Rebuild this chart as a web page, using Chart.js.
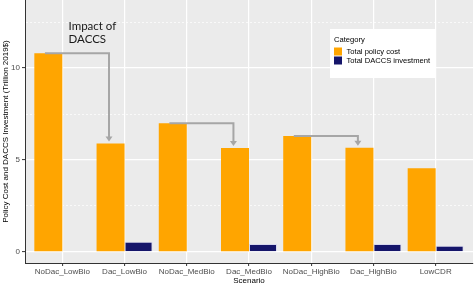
<!DOCTYPE html>
<html>
<head>
<meta charset="utf-8">
<script src="https://cdn.jsdelivr.net/npm/chart.js@4"></script>
<style>
  html, body { margin: 0; padding: 0; background: #ffffff; }
  #wrap { width: 475px; height: 288px; position: relative; }
</style>
</head>
<body>
<div id="wrap"><canvas id="costChart"></canvas></div>
<script>
// Data
const categories = ["NoDac_LowBio", "Dac_LowBio", "NoDac_MedBio", "Dac_MedBio", "NoDac_HighBio", "Dac_HighBio", "LowCDR"];
const policyCost = [10.8, 5.9, 7.0, 5.65, 6.3, 5.67, 4.55];
const daccsInvestment = [null, 0.56, null, 0.43, null, 0.43, 0.34];
const seriesNames = ["Total policy cost", "Total DACCS investment"];
const yTicks = [0, 2.5, 5, 7.5, 10, 12.5];
// arrows go from scenario a to scenario b
const arrowPairs = [[0, 1], [2, 3], [4, 5]];
const noteLines = ["Impact of", "DACCS"];

const AXIS_FONT = "'Liberation Sans', Arial, sans-serif";

// Panel background, arrows, note and legend
const decorations = {
  id: "decorations",
  beforeDraw(chart) {
    const { ctx, chartArea: a } = chart;
    ctx.save();
    ctx.fillStyle = "#ebebeb";
    ctx.fillRect(a.left, a.top, a.right - a.left, a.bottom - a.top);
    ctx.restore();
  },
  afterDatasetsDraw(chart) {
    const { ctx, scales } = chart;
    const x = scales.x, y = scales.y;
    ctx.save();

    // arrows
    ctx.strokeStyle = "#a6a6a6";
    ctx.fillStyle = "#a6a6a6";
    ctx.lineWidth = 2;
    arrowPairs.forEach(function (p) {
      const x0 = x.getPixelForValue(p[0] + 1 - 0.28);
      const x1 = x.getPixelForValue(p[1] + 1 - 0.25);
      const y0 = y.getPixelForValue(policyCost[p[0]]);
      const y1 = y.getPixelForValue(policyCost[p[1]]) - 2;
      ctx.beginPath();
      ctx.moveTo(x0, y0);
      ctx.lineTo(x1, y0);
      ctx.lineTo(x1, y1 - 4);
      ctx.stroke();
      ctx.beginPath();
      ctx.moveTo(x1 - 3.5, y1 - 5);
      ctx.lineTo(x1 + 3.5, y1 - 5);
      ctx.lineTo(x1, y1);
      ctx.closePath();
      ctx.fill();
    });

    // note text
    ctx.fillStyle = "#1a1a1a";
    ctx.font = "11.5px Lato, 'Open Sans', sans-serif";
    ctx.textAlign = "left";
    ctx.textBaseline = "middle";
    const nx = x.getPixelForValue(1.1);
    ctx.fillText(noteLines[0], nx, y.getPixelForValue(12.28));
    ctx.fillText(noteLines[1], nx, y.getPixelForValue(11.58));

    // legend box
    const lx = 330, ly = 29, lw = 106, lh = 49;
    ctx.fillStyle = "#ffffff";
    ctx.fillRect(lx, ly, lw, lh);
    ctx.font = "7.6px " + AXIS_FONT;
    ctx.fillStyle = "#000000";
    ctx.fillText("Category", lx + 4, ly + 11);
    chart.data.datasets.forEach(function (ds, i) {
      const sy = ly + 18.5 + i * 9;
      ctx.fillStyle = ds.backgroundColor;
      ctx.fillRect(lx + 4, sy, 8, 8);
      ctx.fillStyle = "#000000";
      ctx.fillText(ds.label, lx + 16.5, sy + 4.5);
    });
    ctx.restore();
  },
};

const chart = new Chart(document.getElementById("costChart"), {
  type: "bar",
  data: {
    datasets: [
      {
        label: seriesNames[0],
        data: policyCost.map((v, i) => ({ x: i + 1, y: v })),
        backgroundColor: "#ffa500",
        borderWidth: 0,
        categoryPercentage: 0.9,
        barPercentage: 1.0,
      },
      {
        label: seriesNames[1],
        data: daccsInvestment.map((v, i) => ({ x: i + 1, y: v })),
        backgroundColor: "#15156a",
        borderColor: "#d8d8ee",
        borderWidth: 1,
        categoryPercentage: 0.9,
        barPercentage: 1.0,
      },
    ],
  },
  options: {
    responsive: true,
    maintainAspectRatio: false,
    animation: false,
    layout: { padding: { top: 0, right: 2, left: 0, bottom: 0 } },
    plugins: {
      legend: { display: false },
      tooltip: { enabled: false },
    },
    scales: {
      x: {
        type: "linear",
        min: 0.4,
        max: 7.6,
        offset: false,
        afterBuildTicks: function (axis) {
          axis.ticks = categories.map((c, i) => ({ value: i + 1 }));
        },
        afterFit: function (scale) {
          scale.height = 25;
          scale.paddingLeft = 0;
          scale.paddingRight = 0;
        },
        grid: {
          offset: false,
          color: "#ffffff",
          lineWidth: 1.2,
          tickLength: 3,
          tickColor: "#333333",
          tickWidth: 1,
        },
        border: { display: true, color: "#333333", width: 1 },
        ticks: {
          padding: 1,
          maxRotation: 0,
          autoSkip: false,
          color: "#4d4d4d",
          font: { family: AXIS_FONT, size: 8 },
          callback: (v) => categories[v - 1],
        },
        title: {
          display: true,
          text: "Scenario",
          color: "#000000",
          font: { family: AXIS_FONT, size: 8 },
          padding: { top: 0, bottom: 2 },
        },
      },
      y: {
        min: -0.6,
        max: 13.7,
        afterBuildTicks: function (axis) {
          axis.ticks = yTicks.map((v) => ({ value: v }));
        },
        afterFit: function (scale) {
          scale.width = 25;
          scale.paddingTop = 0;
          scale.paddingBottom = 0;
        },
        grid: {
          color: "#ffffff",
          lineWidth: (ctx) => (ctx.tick && ctx.tick.value % 5 === 0 ? 1.2 : 0.7),
          tickLength: 3,
          tickColor: (ctx) => (ctx.tick && ctx.tick.value % 5 === 0 ? "#333333" : "rgba(0,0,0,0)"),
          tickWidth: 1,
        },
        border: {
          display: true,
          color: "#333333",
          width: 1,
          dash: (ctx) => (ctx.tick && ctx.tick.value % 5 !== 0 ? [2, 2] : []),
        },
        ticks: {
          padding: 2,
          color: "#4d4d4d",
          font: { family: AXIS_FONT, size: 8 },
          callback: (v) => (v % 5 === 0 ? String(v) : ""),
        },
        title: {
          display: true,
          text: "Policy Cost and DACCS Investment (Trillion 2019$)",
          color: "#000000",
          font: { family: AXIS_FONT, size: 8 },
          padding: { top: 1, bottom: 0 },
        },
      },
    },
  },
  plugins: [decorations],
});
</script>
</body>
</html>
